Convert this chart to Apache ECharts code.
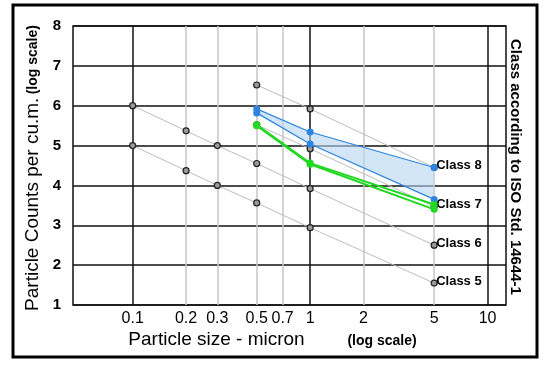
<!DOCTYPE html>
<html><head><meta charset="utf-8">
<script src="https://cdn.jsdelivr.net/npm/echarts@6/dist/echarts.min.js"></script>
<style>html,body{margin:0;padding:0;background:#fff}#c{width:557px;height:369px}</style>
</head><body><div id="c"></div>
<script>
// ---- data (particle size in micron, log10 of counts per cu.m.) ----
const xTickValues = [0.1, 0.2, 0.3, 0.5, 0.7, 1, 2, 5, 10];
const xTickLabels = ['0.1', '0.2', '0.3', '0.5', '0.7', '1', '2', '5', '10'];
const xMajor = [0.1, 1, 10];
const xMinor = [0.2, 0.3, 0.5, 0.7, 2, 5];
const xRange = [0.0461, 12.7];
const yTicks = [1, 2, 3, 4, 5, 6, 7, 8];

const sizesLow = [0.1, 0.2, 0.3, 0.5, 1, 5];
const sizesHigh = [0.5, 1, 5];
const class5 = [5.0, 4.37, 4.0, 3.56, 2.94, 1.55];
const class6 = [6.0, 5.37, 5.0, 4.55, 3.92, 2.5];
const class7 = [5.52, 4.92, 3.47];
const class8 = [6.52, 5.92, 4.45];
const blueUpper = [5.92, 5.34, 4.45];
const blueLower = [5.82, 5.04, 3.65];
const greenA = [5.52, 4.56, 3.52];
const greenB = [5.50, 4.53, 3.40];
const classNames = ['Class 5', 'Class 6', 'Class 7', 'Class 8'];

// ---- helpers ----
const L = v => Math.log10(v);
const pts = (xs, ys) => xs.map((x, i) => [L(x), ys[i]]);
const FONT = '"Liberation Sans", Arial, sans-serif';

function classSeries(name, xs, ys) {
  return {
    type: 'line', name: name, data: pts(xs, ys), z: 2,
    lineStyle: {color: '#bdbdbd', width: 1},
    symbol: 'circle', symbolSize: 6,
    itemStyle: {color: '#9a9a9a', borderColor: '#222', borderWidth: 1.2},
    endLabel: {show: true, formatter: name, distance: 2, offset: [0, -2],
      color: '#000', fontFamily: FONT, fontWeight: 'bold', fontSize: 13},
    animation: false, silent: true
  };
}
function measSeries(ys, color, width, z) {
  return {
    type: 'line', data: pts(sizesHigh, ys), z: z,
    lineStyle: {color: color, width: width},
    symbol: 'circle', symbolSize: 7, itemStyle: {color: color},
    animation: false, silent: true
  };
}

const chart = echarts.init(document.getElementById('c'), null, {renderer: 'canvas'});
const option = {
  backgroundColor: '#fff',
  animation: false,
  grid: {left: 73, top: 26, right: 51, bottom: 64, show: true,
    borderColor: '#111', borderWidth: 1.5, backgroundColor: '#fff'},
  xAxis: [
    {type: 'value', min: L(xRange[0]), max: L(xRange[1]), position: 'bottom',
      axisLine: {show: false}, axisTick: {show: false, customValues: xMajor.map(L)},
      splitLine: {show: true, lineStyle: {color: '#111', width: 1.5}},
      axisLabel: {customValues: xTickValues.map(L), margin: 6,
        color: '#000', fontFamily: FONT, fontSize: 16,
        formatter: v => { const i = xTickValues.findIndex(t => Math.abs(L(t) - v) < 1e-6); return i >= 0 ? xTickLabels[i] : ''; }}},
    {type: 'value', min: L(xRange[0]), max: L(xRange[1]), position: 'top',
      axisLine: {show: false}, axisTick: {show: false, customValues: xMinor.map(L)},
      splitLine: {show: true, lineStyle: {color: '#c6c6c6', width: 1.5}},
      axisLabel: {show: false}}
  ],
  yAxis: [
    {type: 'value', min: yTicks[0], max: yTicks[yTicks.length - 1], interval: 1,
      axisLine: {show: false}, axisTick: {show: false},
      splitLine: {show: true, lineStyle: {color: '#111', width: 1.5}},
      axisLabel: {margin: 12, color: '#000', fontFamily: FONT, fontSize: 15, fontWeight: 'bold'}}
  ],
  series: [
    classSeries(classNames[0], sizesLow, class5),
    classSeries(classNames[1], sizesLow, class6),
    classSeries(classNames[2], sizesHigh, class7),
    classSeries(classNames[3], sizesHigh, class8),
    {
      type: 'custom', z: 3, silent: true, data: [0],
      renderItem: function (params, api) {
        const up = pts(sizesHigh, blueUpper).map(p => api.coord(p));
        const lo = pts(sizesHigh, blueLower).map(p => api.coord(p)).reverse();
        return {type: 'polygon', shape: {points: up.concat(lo)},
          style: {fill: 'rgba(180,214,244,0.6)', stroke: null}};
      }
    },
    measSeries(blueUpper, '#2f84e0', 1.2, 4),
    measSeries(blueLower, '#2f84e0', 1.2, 4),
    measSeries(greenA, '#22d822', 2, 5),
    measSeries(greenB, '#22d822', 2, 5)
  ],
  graphic: [
    {type: 'rect', shape: {x: 13, y: 5, width: 524, height: 352},
      style: {fill: null, stroke: '#000', lineWidth: 3}, silent: true},
    {type: 'text', x: 33, y: 168, rotation: Math.PI / 2,
      style: {text: '{a|Particle Counts per cu.m.} {b|(log scale)}', align: 'center', verticalAlign: 'middle',
        rich: {a: {fontFamily: FONT, fontSize: 19, fill: '#000', color: '#000'},
               b: {fontFamily: FONT, fontSize: 14, fontWeight: 'bold', fill: '#000', color: '#000'}}}},
    {type: 'text', x: 216.5, y: 340,
      style: {text: 'Particle size - micron', align: 'center', verticalAlign: 'middle',
        font: '19px ' + FONT, fill: '#000'}},
    {type: 'text', x: 382, y: 341,
      style: {text: '(log scale)', align: 'center', verticalAlign: 'middle',
        font: 'bold 14px ' + FONT, fill: '#000'}},
    {type: 'text', x: 515, y: 167, rotation: -Math.PI / 2,
      style: {text: 'Class according to ISO Std. 14644-1', align: 'center', verticalAlign: 'middle',
        font: 'bold 15px ' + FONT, fill: '#000'}}
  ]
};
chart.setOption(option);
</script>
</body></html>
